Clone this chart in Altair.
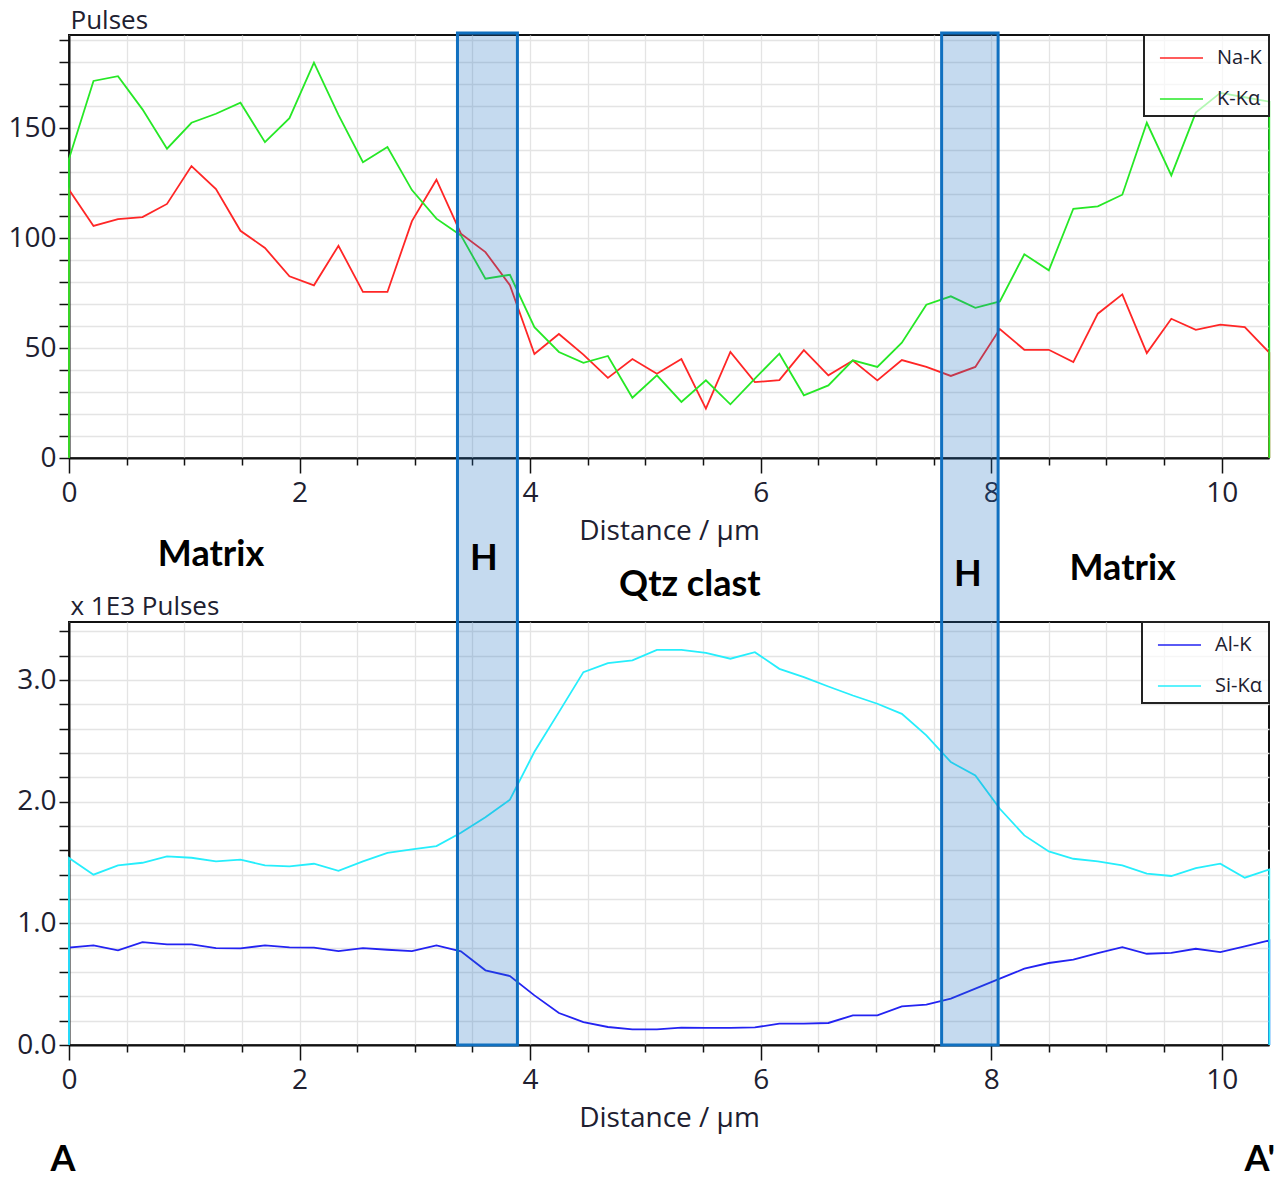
import altair as alt
import pandas as pd

# ---------------- data ----------------
distance_um = [0.0, 0.2125, 0.425, 0.6375, 0.85, 1.0625, 1.275, 1.4875, 1.7, 1.9125,
               2.125, 2.3375, 2.55, 2.7625, 2.975, 3.1875, 3.4, 3.6125, 3.825, 4.0375,
               4.25, 4.4625, 4.675, 4.8875, 5.1, 5.3125, 5.525, 5.7375, 5.95, 6.1625,
               6.375, 6.5875, 6.8, 7.0125, 7.225, 7.4375, 7.65, 7.8625, 8.075, 8.2875,
               8.5, 8.7125, 8.925, 9.1375, 9.35, 9.5625, 9.775, 9.9875, 10.2, 10.4125]

na_k = [122, 105.5, 108.6, 109.5, 115.5, 132.7, 122.3, 103.3, 95.5, 82.6,
        78.5, 96.5, 75.5, 75.5, 107.7, 126.5, 102, 93.6, 78.6, 47.3,
        56.4, 47, 36.4, 45, 38.3, 45, 22.4, 48.2, 34.5, 35.4,
        49, 37.6, 44.3, 35.3, 44.5, 41.4, 37.3, 41.4, 58.6, 49.2,
        49.2, 43.6, 65.6, 74.4, 47.7, 63.3, 58.3, 60.6, 59.5, 47.9]

k_ka = [136, 171.4, 173.6, 158.5, 140.6, 152.4, 156.5, 161.5, 143.6, 154.5,
        179.7, 156, 134.5, 141.4, 121.8, 108.8, 101.2, 81.5, 83.3, 59.5,
        48.2, 43.3, 46.4, 27.4, 37.6, 25.5, 35.3, 24.4, 36.1, 47.4,
        28.5, 33, 44.4, 41.4, 52.4, 69.7, 73.5, 68.3, 71.2, 92.6,
        85.3, 113.3, 114.4, 119.7, 152.4, 128.5, 157, 166, 164, 162]

al_k = [0.800, 0.819, 0.778, 0.846, 0.827, 0.827, 0.797, 0.794, 0.819, 0.803,
        0.800, 0.772, 0.797, 0.783, 0.772, 0.819, 0.770, 0.614, 0.567, 0.408,
        0.263, 0.189, 0.148, 0.129, 0.129, 0.142, 0.140, 0.140, 0.145, 0.175,
        0.175, 0.181, 0.244, 0.244, 0.318, 0.331, 0.381, 0.463, 0.545, 0.627,
        0.674, 0.701, 0.756, 0.805, 0.750, 0.758, 0.791, 0.764, 0.811, 0.860]

si_ka = [1.537, 1.400, 1.477, 1.498, 1.550, 1.539, 1.510, 1.523, 1.477, 1.468,
         1.490, 1.432, 1.510, 1.580, 1.608, 1.635, 1.745, 1.873, 2.016, 2.410,
         2.736, 3.065, 3.139, 3.161, 3.248, 3.248, 3.224, 3.175, 3.229, 3.092,
         3.024, 2.947, 2.873, 2.805, 2.722, 2.545, 2.325, 2.216, 1.942, 1.723,
         1.591, 1.531, 1.509, 1.476, 1.408, 1.389, 1.454, 1.490, 1.375, 1.443]

baseline = 0  # the scan starts and ends on the detector baseline

top_series = ["Na-K", "K-Kα"]
top_colors = ["#ff2626", "#26e826"]
bottom_series = ["Al-K", "Si-Kα"]
bottom_colors = ["#2323f2", "#26eefc"]

h_start = [3.37, 7.57]
h_end = [3.89, 8.06]

annot_text = ["Matrix", "H", "Qtz clast", "H", "Matrix", "A", "A'"]
annot_x = [1.232, 3.599, 5.386, 7.797, 9.141, -0.052, 10.33]
annot_y = [4.027, 3.994, 3.781, 3.863, 3.912, -0.945, -0.945]

x_ticks = [i * 0.5 for i in range(21)]
top_y_ticks = list(range(0, 191, 10))
bottom_y_ticks = [round(i * 0.2, 1) for i in range(18)]

X_MAX = 10.41
TOP_MAX = 192.3
BOT_MAX = 3.477
W = 1200
H = 423
GAP = 164
BAND_TOP = BOT_MAX * (2 * H + GAP + 2) / H

FONT = "Open Sans"
TXT = "#202030"


def series_frame(names, values_list):
    rows = []
    for name, vals in zip(names, values_list):
        xs = [distance_um[0]] + distance_um + [distance_um[-1]]
        ys = [baseline] + vals + [baseline]
        for k, (x, y) in enumerate(zip(xs, ys)):
            rows.append({"distance": x, "value": y, "element": name, "seq": k})
    return pd.DataFrame(rows)


top_df = series_frame(top_series, [na_k, k_ka])
bot_df = series_frame(bottom_series, [al_k, si_ka])
band_df = pd.DataFrame({"x0": h_start, "x1": h_end,
                        "y0": [0, 0], "y1": [BAND_TOP, BAND_TOP]})
annot_df = pd.DataFrame({"label": annot_text, "ax": annot_x, "ay": annot_y})

x_scale = alt.Scale(domain=[0, X_MAX], nice=False, zero=False)
top_y_scale = alt.Scale(domain=[0, TOP_MAX], nice=False, zero=False)
bot_y_scale = alt.Scale(domain=[0, BOT_MAX], nice=False, zero=False)


def x_axis():
    return alt.Axis(values=x_ticks, format=".0f",
                    labelExpr="datum.value % 2 === 0 ? datum.label : ''",
                    tickSize={"condition": {"test": "datum.value % 2 === 0", "value": 15}, "value": 7},
                    labelPadding=6, titlePadding=10, title="Distance / µm",
                    labelFlush=False)


def top_y_axis():
    return alt.Axis(values=top_y_ticks, format="d",
                    labelExpr="datum.value % 50 === 0 ? datum.label : ''",
                    tickSize=10, labelPadding=3,
                    title="Pulses", titleAngle=0, titleAlign="left", titleFontSize=26,
                    titleBaseline="alphabetic", titleX=1, titleY=-7)


def bot_y_axis():
    return alt.Axis(values=bottom_y_ticks, format=".1f",
                    labelExpr="abs(datum.value - round(datum.value)) < 0.001 ? datum.label : ''",
                    tickSize=10, labelPadding=3,
                    title="x 1E3 Pulses", titleAngle=0, titleAlign="left", titleFontSize=26,
                    titleBaseline="alphabetic", titleX=1, titleY=-8)


# ---------------- top panel ----------------
top = alt.Chart(top_df).mark_line(strokeWidth=1.8).encode(
    x=alt.X("distance:Q", scale=x_scale, axis=x_axis()),
    y=alt.Y("value:Q", scale=top_y_scale, axis=top_y_axis()),
    color=alt.Color("element:N",
                    scale=alt.Scale(domain=top_series, range=top_colors),
                    legend=alt.Legend(title=None)),
    order=alt.Order("seq:Q"),
).properties(width=W, height=H)

# ---------------- bottom panel ----------------
bot_lines = alt.Chart(bot_df).mark_line(strokeWidth=1.8).encode(
    x=alt.X("distance:Q", scale=x_scale, axis=x_axis()),
    y=alt.Y("value:Q", scale=bot_y_scale, axis=bot_y_axis()),
    color=alt.Color("element:N",
                    scale=alt.Scale(domain=bottom_series, range=bottom_colors),
                    legend=alt.Legend(title=None)),
    order=alt.Order("seq:Q"),
)

bands = alt.Chart(band_df).mark_rect(
    fill="#1f6fc0", fillOpacity=0.26, stroke="#1070c0", strokeWidth=3
).encode(
    x=alt.X("x0:Q", scale=x_scale, axis=x_axis()),
    x2="x1:Q",
    y=alt.Y("y0:Q", scale=bot_y_scale, axis=bot_y_axis()),
    y2="y1:Q",
)

annots = alt.Chart(annot_df).mark_text(
    font="Lato", fontWeight="bold", fontSize=36, color="black",
    align="center", baseline="middle"
).encode(
    x=alt.X("ax:Q", scale=x_scale, axis=x_axis()),
    y=alt.Y("ay:Q", scale=bot_y_scale, axis=bot_y_axis()),
    text="label:N",
)

bottom = alt.layer(bot_lines, bands, annots).resolve_scale(
    x="shared", y="shared"
).properties(width=W, height=H)

chart = alt.vconcat(top, bottom, spacing=GAP, bounds="flush").resolve_scale(
    color="independent"
).properties(
    padding={"left": 6, "top": 6, "right": 0, "bottom": 1},
    background="white",
).configure_axis(
    domainColor="#111111", domainWidth=2,
    tickColor="#111111", tickWidth=1.5,
    gridColor="#e4e4e4", gridWidth=1.3,
    labelFont=FONT, labelFontSize=28, labelColor=TXT,
    titleFont=FONT, titleFontSize=28, titleFontWeight="normal", titleColor=TXT,
).configure_view(
    stroke="#111111", strokeWidth=2
).configure_legend(
    orient="top-right", offset=0, fillColor="rgba(255,255,255,0.65)",
    strokeColor="#222222", strokeWidth=2, padding=7,
    labelFont=FONT, labelFontSize=20, labelColor=TXT, labelOffset=34,
    symbolType="M-0.47,0H2.4", symbolSize=900, symbolStrokeWidth=1.5,
    rowPadding=15,
)

chart.save("out.html", embed_options={"renderer": "svg", "actions": False})
